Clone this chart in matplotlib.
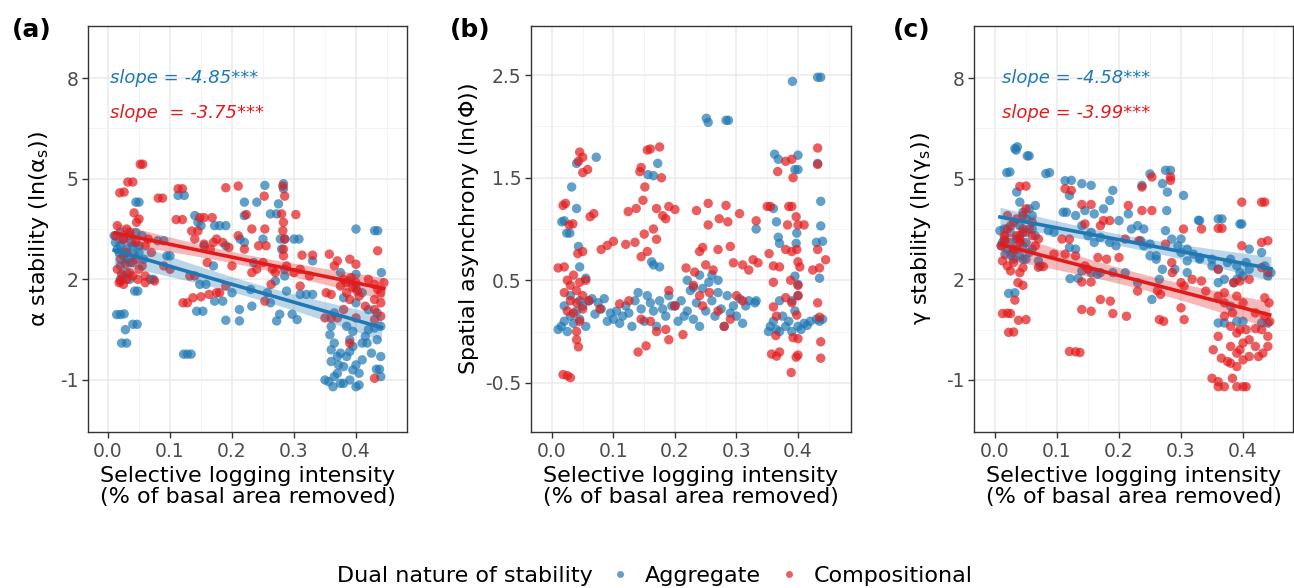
import numpy as np
import matplotlib
matplotlib.use('Agg')
import matplotlib.pyplot as plt
from matplotlib.lines import Line2D
from matplotlib.ticker import FixedLocator

plt.rcParams['font.family'] = ['DejaVu Sans']
plt.rcParams['mathtext.fontset'] = 'dejavusans'
plt.rcParams['axes.unicode_minus'] = False

BLUE = '#1F78B4'
RED = '#E31A1C'

groups = ['Aggregate', 'Compositional']
x_ticks = [0.0, 0.1, 0.2, 0.3, 0.4]

# ---------------- panel (a): alpha stability ----------------
a_agg = np.array([
    (0.014,0.95),(0.02,0.95),(0.026,0.97),(0.028,0.5),(0.022,0.1),(0.03,0.1),(0.04,0.66),(0.047,0.66),
    (0.043,1.65),(0.048,1.65),(0.045,4.3),(0.05,4.3),(0.02,2.4),(0.025,2.1),(0.03,2.2),(0.035,2.0),
    (0.02,2.0),(0.03,2.6),(0.015,2.9),(0.02,3.0),(0.025,2.7),(0.035,2.5),(0.045,3.4),(0.055,3.3),
    (0.04,3.0),(0.05,2.8),(0.068,2.0),(0.073,2.0),(0.08,3.15),(0.09,3.15),(0.095,2.7),(0.1,2.7),
    (0.113,4.5),(0.123,4.5),(0.122,-0.23),(0.128,-0.23),(0.134,-0.23),(0.14,3.9),(0.15,3.6),(0.145,3.7),
    (0.143,1.05),(0.153,1.05),(0.148,1.85),(0.158,1.85),(0.155,3.0),(0.172,3.6),(0.18,3.6),(0.19,3.6),
    (0.172,1.35),(0.185,1.35),(0.19,0.78),(0.19,3.0),(0.212,0.76),(0.212,1.1),(0.213,3.2),(0.22,3.1),
    (0.22,4.3),(0.22,3.9),(0.23,1.7),(0.232,1.2),(0.24,4.3),(0.253,4.8),(0.25,3.2),(0.257,1.6),
    (0.262,1.3),(0.262,3.95),(0.272,3.95),(0.275,4.25),(0.272,0.76),(0.278,3.2),(0.285,3.2),(0.283,4.85),
    (0.283,4.7),(0.28,2.9),(0.285,2.3),(0.277,0.96),(0.285,2.1),(0.288,1.65),(0.3,3.2),(0.308,3.2),
    (0.297,0.96),(0.305,0.8),(0.32,1.55),(0.33,1.55),(0.33,2.55),(0.358,0.35),(0.365,0.1),(0.37,-0.3),
    (0.36,-0.45),(0.372,-0.55),(0.36,-0.1),(0.35,-1.0),(0.356,-1.05),(0.363,-1.2),(0.375,2.2),(0.39,1.95),
    (0.4,1.75),(0.41,1.6),(0.385,0.6),(0.395,0.45),(0.39,-0.15),(0.4,-0.55),(0.38,-1.1),(0.39,-1.0),
    (0.4,-1.2),(0.405,-1.15),(0.4,3.5),(0.4,2.15),(0.41,0.1),(0.418,0.1),(0.42,0.5),(0.43,0.55),
    (0.43,3.45),(0.435,3.45),(0.434,0.2),(0.433,-0.68),(0.438,-0.68),(0.441,2.2),(0.44,0.6),(0.434,1.0),
    (0.17,2.4),(0.2,1.6),(0.235,2.5),(0.27,1.95),(0.31,1.55),(0.365,1.0),(0.38,1.45),(0.4,1.3),(0.42,1.1),
    (0.012,3.1),(0.018,2.8),(0.025,3.2),(0.03,2.9),(0.038,3.1),(0.042,2.75),(0.05,3.0),(0.058,2.6),
    (0.37,-0.8),(0.38,-0.6),(0.39,0.2),(0.375,-0.2),(0.41,-0.4),(0.44,-0.3),(0.36,0.6),(0.395,-0.7),
    (0.365,-0.9),(0.375,-1.1),(0.385,-0.3),(0.395,0.0),(0.405,-0.8),(0.415,0.3),(0.425,-0.2),(0.44,-0.9),
    (0.01,3.3),(0.02,3.4),(0.035,3.3),
])
a_comp = np.array([
    (0.052,5.43),(0.056,5.43),(0.032,4.9),(0.04,4.9),(0.019,4.58),(0.026,4.6),(0.081,4.42),(0.088,4.42),
    (0.113,4.7),(0.12,4.7),(0.19,4.73),(0.21,4.78),(0.252,4.48),(0.282,4.78),(0.285,4.48),(0.042,3.98),
    (0.046,3.7),(0.05,3.8),(0.11,3.78),(0.12,3.78),(0.148,3.84),(0.155,3.84),(0.168,3.84),(0.135,3.44),
    (0.145,3.44),(0.14,3.2),(0.155,3.05),(0.165,2.9),(0.17,3.1),(0.175,3.2),(0.185,3.1),(0.195,2.95),
    (0.132,2.1),(0.14,2.1),(0.121,1.3),(0.128,1.3),(0.137,1.45),(0.15,1.48),(0.163,1.55),(0.175,1.6),
    (0.18,1.6),(0.19,1.8),(0.21,3.3),(0.223,3.93),(0.232,3.5),(0.22,2.9),(0.232,2.2),(0.243,3.0),
    (0.255,3.0),(0.253,3.5),(0.25,2.5),(0.265,2.3),(0.253,1.35),(0.263,1.85),(0.28,3.95),(0.283,3.7),
    (0.282,3.45),(0.285,3.2),(0.283,2.9),(0.283,2.7),(0.303,3.93),(0.31,1.8),(0.288,2.4),(0.3,2.2),
    (0.31,2.3),(0.313,2.72),(0.33,2.72),(0.325,2.1),(0.357,2.75),(0.37,2.55),(0.365,2.4),(0.352,1.6),
    (0.36,1.55),(0.35,0.85),(0.36,0.85),(0.37,0.85),(0.375,1.8),(0.38,2.0),(0.385,1.6),(0.39,1.4),
    (0.395,1.75),(0.4,1.9),(0.405,1.5),(0.385,1.9),(0.392,2.05),(0.402,1.65),(0.39,2.6),(0.4,2.45),
    (0.39,0.1),(0.4,0.85),(0.42,2.0),(0.43,1.85),(0.435,1.7),(0.44,1.6),(0.445,1.9),(0.43,1.4),
    (0.44,1.3),(0.435,2.85),(0.43,-0.95),(0.43,0.8),(0.02,1.95),(0.03,2.0),(0.04,2.1),(0.02,2.6),
    (0.03,2.8),(0.045,2.6),(0.05,2.3),(0.012,3.3),(0.025,3.2),(0.035,3.4),(0.045,3.1),(0.06,3.0),
    (0.065,3.2),(0.07,2.8),(0.075,1.95),(0.09,2.4),(0.1,2.3),(0.06,2.1),
    (0.015,2.3),(0.022,2.15),(0.028,2.45),(0.035,2.2),(0.04,2.5),(0.048,2.0),(0.055,2.4),(0.06,1.9),
    (0.018,1.9),(0.025,1.85),(0.16,2.5),(0.2,2.4),(0.24,2.3),(0.27,2.2),
    (0.43,1.1),(0.415,1.2),(0.44,0.9),(0.38,1.1),(0.015,3.6),(0.03,3.5),
])

# ---------------- panel (b): spatial asynchrony ----------------
b_agg = np.array([
    (0.391,2.44),(0.432,2.48),(0.437,2.48),(0.251,2.08),(0.254,2.04),(0.283,2.06),(0.287,2.06),
    (0.362,1.73),(0.368,1.68),(0.4,1.72),(0.395,1.58),(0.4,1.58),(0.432,1.64),(0.437,1.27),(0.437,1.03),
    (0.43,0.87),(0.44,0.88),(0.435,0.52),(0.072,1.7),(0.04,1.64),(0.032,1.41),(0.016,1.07),(0.02,1.08),
    (0.024,0.96),(0.029,0.96),(0.04,1.2),(0.043,0.83),(0.045,0.63),(0.055,0.52),(0.156,1.53),(0.165,1.52),
    (0.172,1.64),(0.165,0.65),(0.175,0.63),(0.36,1.2),(0.332,1.0),(0.365,1.07),(0.368,0.92),(0.398,0.96),
    (0.397,0.86),(0.395,0.54),(0.4,0.46),(0.37,0.86),
    (0.01,0.02),(0.015,0.05),(0.02,0.1),(0.025,0.0),(0.03,0.15),(0.035,0.08),(0.04,0.2),(0.045,0.12),
    (0.05,0.25),(0.055,0.05),(0.06,0.3),(0.02,0.25),(0.03,0.35),(0.045,0.3),(0.065,0.32),(0.07,0.17),
    (0.075,0.28),(0.08,0.22),(0.085,0.32),(0.09,0.1),(0.1,0.12),(0.095,0.18),(0.105,0.2),(0.11,0.08),
    (0.115,0.15),(0.12,0.25),(0.125,0.18),(0.13,0.05),(0.135,0.3),(0.14,0.38),(0.145,0.22),(0.15,0.1),
    (0.155,0.35),(0.16,0.28),(0.165,0.2),(0.17,0.05),(0.175,0.3),(0.18,0.22),(0.185,0.15),(0.19,0.35),
    (0.195,0.25),(0.2,0.25),(0.205,0.1),(0.21,0.3),(0.215,0.15),(0.22,0.2),(0.225,0.4),(0.23,0.12),
    (0.235,0.28),(0.24,0.05),(0.245,0.42),(0.25,0.2),(0.255,0.48),(0.26,0.3),(0.265,0.15),(0.27,0.38),
    (0.275,0.22),(0.28,0.05),(0.285,0.35),(0.29,0.18),(0.295,0.25),(0.3,0.15),(0.305,0.32),(0.31,0.08),
    (0.315,0.25),(0.32,0.3),(0.33,0.28),(0.26,0.55),(0.27,0.5),(0.24,0.55),(0.22,0.5),(0.352,0.0),
    (0.355,0.05),(0.36,0.1),(0.365,0.02),(0.37,0.0),(0.375,0.15),(0.38,0.05),(0.385,0.1),(0.39,0.0),
    (0.395,0.2),(0.4,0.05),(0.405,0.02),(0.41,0.08),(0.415,0.06),(0.42,0.1),(0.43,0.12),(0.435,0.1),
    (0.44,0.12),(0.37,0.3),(0.39,0.3),(0.4,0.35),(0.162,0.68),(0.332,0.3),(0.23,0.43),
])
b_comp = np.array([
    (0.018,-0.42),(0.025,-0.43),(0.03,-0.45),(0.14,-0.2),(0.153,-0.14),(0.19,-0.08),(0.213,-0.03),
    (0.17,0.0),(0.185,0.02),(0.389,-0.4),(0.357,-0.22),(0.365,-0.24),(0.37,-0.2),(0.397,-0.25),
    (0.4,-0.23),(0.437,-0.26),(0.437,-0.1),(0.392,-0.06),(0.4,-0.07),(0.364,-0.04),(0.04,-0.08),
    (0.043,-0.15),(0.04,0.0),(0.045,1.75),(0.05,1.7),(0.043,1.66),(0.05,1.55),(0.058,1.58),(0.018,1.23),
    (0.022,1.25),(0.034,1.05),(0.028,1.04),(0.062,1.12),(0.068,1.15),(0.08,0.8),(0.09,0.84),(0.1,0.88),
    (0.01,0.62),(0.02,0.63),(0.025,0.5),(0.03,0.45),(0.035,0.55),(0.04,0.4),(0.045,0.48),(0.05,0.35),
    (0.055,0.5),(0.03,0.3),(0.02,0.38),(0.04,0.28),(0.05,0.22),(0.035,0.18),(0.045,0.1),(0.06,0.3),
    (0.025,0.2),(0.042,0.76),(0.05,0.78),(0.078,0.22),(0.11,0.27),(0.125,0.3),(0.143,1.56),(0.155,1.77),
    (0.16,1.78),(0.175,1.8),(0.145,1.6),(0.178,1.5),(0.151,1.41),(0.124,1.17),(0.137,1.2),(0.148,1.28),
    (0.17,1.2),(0.18,1.13),(0.19,1.22),(0.2,1.19),(0.185,1.1),(0.12,0.85),(0.135,0.87),(0.145,0.73),
    (0.155,0.78),(0.15,0.95),(0.165,1.0),(0.17,0.9),(0.235,1.18),(0.254,1.25),(0.283,1.23),(0.305,1.15),
    (0.254,1.04),(0.272,1.1),(0.286,1.07),(0.245,0.82),(0.27,0.8),(0.29,0.83),(0.24,0.78),(0.218,0.62),
    (0.232,0.58),(0.25,0.65),(0.262,0.6),(0.295,0.67),(0.31,0.65),(0.32,0.6),(0.335,0.67),(0.327,0.7),
    (0.332,1.08),(0.35,1.22),(0.355,1.22),(0.353,0.76),(0.36,0.64),(0.37,0.63),(0.36,0.48),(0.36,0.24),
    (0.365,0.15),(0.38,1.66),(0.39,1.68),(0.392,1.5),(0.367,1.56),(0.385,1.22),(0.39,1.22),(0.397,1.12),
    (0.383,1.04),(0.4,1.04),(0.41,1.04),(0.38,0.8),(0.39,0.78),(0.398,0.8),(0.4,0.68),(0.403,0.63),
    (0.388,0.5),(0.4,0.45),(0.38,0.33),(0.39,0.28),(0.4,0.35),(0.398,0.16),(0.432,1.79),(0.432,1.63),
    (0.424,0.6),(0.435,0.62),(0.445,0.7),(0.432,0.28),(0.435,0.14),(0.432,0.8),(0.23,0.45),(0.24,0.35),
    (0.245,0.25),(0.256,0.38),(0.27,0.2),(0.28,0.05),(0.29,0.12),(0.145,0.12),(0.16,0.1),(0.19,0.4),
    (0.2,0.25),(0.3,0.35),(0.31,0.3),
])

# ---------------- panel (c): gamma stability ----------------
c_agg = np.array([
    (0.032,5.9),(0.036,5.95),(0.034,5.85),(0.052,5.68),(0.055,5.68),(0.019,5.18),(0.024,5.2),(0.082,5.15),
    (0.088,5.18),(0.113,4.94),(0.123,4.95),(0.14,4.85),(0.155,4.8),(0.12,4.5),(0.19,4.65),(0.185,4.35),
    (0.237,4.8),(0.25,5.14),(0.275,5.25),(0.283,5.25),(0.27,4.85),(0.278,4.6),(0.304,4.5),(0.277,4.05),
    (0.33,3.75),(0.36,3.8),(0.366,3.8),(0.395,3.65),(0.035,4.6),(0.04,4.3),(0.045,4.0),(0.05,3.8),
    (0.055,4.1),(0.06,3.9),(0.065,4.2),(0.04,3.6),(0.05,3.4),(0.035,3.2),(0.045,3.0),(0.055,2.8),
    (0.04,2.7),(0.06,3.5),(0.008,3.45),(0.015,3.5),(0.025,3.4),(0.016,2.75),(0.026,2.72),(0.022,1.58),
    (0.032,1.6),(0.07,2.55),(0.073,2.4),(0.086,3.45),(0.095,3.4),(0.11,4.0),(0.115,4.0),(0.12,2.95),
    (0.13,2.9),(0.121,2.02),(0.134,2.03),(0.13,3.9),(0.14,3.6),(0.15,3.3),(0.16,3.1),(0.14,2.25),
    (0.155,2.2),(0.165,2.15),(0.145,4.05),(0.16,3.95),(0.175,4.1),(0.155,3.4),(0.17,3.25),(0.185,3.1),
    (0.195,3.0),(0.17,2.2),(0.19,2.2),(0.2,3.75),(0.215,3.95),(0.23,3.6),(0.24,3.5),(0.21,2.2),
    (0.23,1.9),(0.22,3.5),(0.235,3.15),(0.25,3.05),(0.24,3.0),(0.25,2.7),(0.26,2.6),(0.253,1.4),
    (0.26,2.7),(0.27,2.3),(0.265,2.0),(0.275,3.45),(0.285,3.2),(0.295,3.0),(0.3,2.8),(0.3,3.2),
    (0.31,2.9),(0.32,2.75),(0.33,2.65),(0.29,2.3),(0.31,2.2),(0.31,2.55),(0.33,2.6),(0.35,2.4),
    (0.35,2.6),(0.36,2.3),(0.37,2.0),(0.375,2.5),(0.36,1.9),(0.36,0.7),(0.37,0.7),(0.38,2.6),
    (0.39,2.4),(0.4,2.1),(0.41,2.3),(0.385,1.9),(0.395,2.2),(0.405,2.5),(0.39,2.0),(0.38,1.2),
    (0.39,0.75),(0.4,0.75),(0.398,3.65),(0.41,2.9),(0.43,2.8),(0.435,2.4),(0.44,2.1),(0.445,2.2),
    (0.43,0.7),(0.44,0.7),(0.328,3.76),
    (0.01,3.0),(0.015,3.2),(0.02,2.9),(0.025,3.1),(0.03,2.6),(0.035,2.9),(0.04,3.3),(0.045,2.6),
    (0.05,3.1),(0.06,2.9),(0.065,3.3),(0.012,3.1),(0.028,2.8),(0.05,2.6),
])
c_comp = np.array([
    (0.04,4.77),(0.05,4.78),(0.113,4.7),(0.123,4.65),(0.14,4.23),(0.155,4.23),(0.175,3.75),(0.185,3.75),
    (0.237,4.75),(0.253,5.05),(0.283,5.05),(0.283,4.95),(0.398,4.3),(0.43,4.3),(0.435,4.3),(0.333,3.5),
    (0.36,3.52),(0.366,3.52),(0.304,3.5),(0.237,4.05),(0.253,4.05),(0.215,4.2),(0.012,2.55),(0.02,2.4),
    (0.025,2.25),(0.03,2.5),(0.04,2.2),(0.045,2.35),(0.012,0.98),(0.02,0.99),(0.025,0.98),(0.022,0.42),
    (0.03,0.43),(0.038,0.78),(0.05,0.8),(0.037,1.9),(0.045,1.82),(0.016,3.15),(0.04,3.1),(0.03,3.7),
    (0.045,3.5),(0.06,3.3),(0.07,3.2),(0.032,1.38),(0.07,2.36),(0.078,2.38),(0.095,2.75),(0.113,2.75),
    (0.108,3.2),(0.12,3.2),(0.12,-0.15),(0.13,-0.16),(0.137,-0.18),(0.14,1.1),(0.155,1.05),(0.14,1.92),
    (0.155,1.92),(0.13,2.7),(0.145,2.4),(0.15,2.3),(0.145,3.65),(0.17,3.6),(0.166,2.65),(0.18,2.6),
    (0.17,1.4),(0.186,1.35),(0.19,0.98),(0.212,0.9),(0.2,2.65),(0.21,3.2),(0.232,3.15),(0.23,1.65),
    (0.265,0.8),(0.272,0.75),(0.262,1.66),(0.267,1.55),(0.275,3.05),(0.285,2.5),(0.286,2.2),(0.3,1.9),
    (0.305,1.8),(0.3,1.15),(0.305,0.8),(0.318,2.0),(0.333,1.95),(0.34,1.65),(0.36,1.5),(0.37,1.3),
    (0.352,-0.1),(0.365,-0.35),(0.375,-0.45),(0.35,-0.95),(0.36,-1.05),(0.36,-1.2),(0.37,-1.2),
    (0.38,0.0),(0.39,-0.2),(0.4,-0.4),(0.395,-0.1),(0.383,-0.95),(0.39,-1.2),(0.4,-1.2),(0.405,-1.2),
    (0.383,1.0),(0.39,0.4),(0.405,0.5),(0.36,2.3),(0.37,1.6),(0.385,1.9),(0.39,1.5),(0.4,1.3),
    (0.41,2.0),(0.41,0.2),(0.42,0.53),(0.398,3.0),(0.395,1.95),(0.43,3.1),(0.44,3.15),(0.432,-0.2),
    (0.435,1.45),(0.442,1.3),(0.43,2.35),(0.44,2.2),(0.443,0.74),
    (0.015,3.3),(0.025,3.6),(0.035,3.3),(0.045,3.9),(0.05,4.1),(0.055,3.5),(0.065,3.0),(0.03,2.9),
    (0.04,3.2),(0.01,3.0),(0.06,3.7),(0.36,0.3),(0.37,0.9),(0.38,0.6),(0.39,-0.6),(0.4,0.1),
    (0.41,-0.3),(0.38,-0.5),(0.435,0.9),(0.42,1.0),(0.44,0.3),
    (0.02,3.5),(0.035,3.8),(0.045,3.4),(0.43,0.5),(0.42,0.0),(0.395,0.5),
    (0.02,3.9),(0.44,0.0),(0.425,-0.3),
])

slope_labels = {
    'a': ['slope = -4.85***', 'slope  = -3.75***'],
    'c': ['slope = -4.58***', 'slope = -3.99***'],
}

W, H = 1294, 588
fig = plt.figure(figsize=(W / 100, H / 100), dpi=100)


def px_axes(l, t, r, b):
    return fig.add_axes([l / W, 1 - b / H, (r - l) / W, (b - t) / H])


def fit_ci(d):
    x, y = d[:, 0], d[:, 1]
    n = len(x)
    b1, b0 = np.polyfit(x, y, 1)
    xs = np.linspace(x.min(), x.max(), 100)
    yh = b0 + b1 * xs
    res = y - (b0 + b1 * x)
    s = np.sqrt(res @ res / (n - 2))
    se = s * np.sqrt(1 / n + (xs - x.mean()) ** 2 / ((x - x.mean()) ** 2).sum())
    return xs, yh, yh - 1.97 * se, yh + 1.97 * se


def style(ax, xlim, ylim, yticks, yminor):
    ax.set_xlim(*xlim)
    ax.set_ylim(*ylim)
    ax.xaxis.set_major_locator(FixedLocator(x_ticks))
    ax.xaxis.set_minor_locator(FixedLocator([-0.05, 0.05, 0.15, 0.25, 0.35, 0.45]))
    ax.yaxis.set_major_locator(FixedLocator(yticks))
    ax.yaxis.set_minor_locator(FixedLocator(yminor))
    ax.set_xticklabels(['0.0', '0.1', '0.2', '0.3', '0.4'])
    ax.grid(which='major', color='#EBEBEB', lw=1.1)
    ax.grid(which='minor', color='#F2F2F2', lw=0.6)
    ax.set_axisbelow(True)
    for sp in ax.spines.values():
        sp.set_color('#333333')
        sp.set_linewidth(1.0)
    ax.tick_params(which='major', length=4, width=1, color='#333333',
                   labelsize=13.5, labelcolor='#4D4D4D', pad=3)
    ax.tick_params(which='minor', length=0)
    ax.set_xlabel('Selective logging intensity\n(% of basal area removed)',
                  fontsize=16, labelpad=4, linespacing=1.05)


def draw(ax, agg, comp, smooth):
    ax.scatter(agg[:, 0], agg[:, 1], s=46, color=BLUE, alpha=0.7, edgecolors='none', zorder=2)
    ax.scatter(comp[:, 0], comp[:, 1], s=46, color=RED, alpha=0.7, edgecolors='none', zorder=2)
    if smooth:
        for d, c in ((agg, BLUE), (comp, RED)):
            xs, yh, lo, hi = fit_ci(d)
            ax.fill_between(xs, lo, hi, color=c, alpha=0.3, lw=0, zorder=3)
            ax.plot(xs, yh, color=c, lw=2.6, zorder=4)


# panel a
ax1 = px_axes(88, 26, 407, 432)
draw(ax1, a_agg, a_comp, True)
style(ax1, (-0.0323, 0.4823), (-2.55, 9.55), [-1, 2, 5, 8], [0.5, 3.5, 6.5])
ax1.set_ylabel(r'α stability $\left(\mathrm{ln}\left(\mathrm{α_{s}}\right)\right)$', fontsize=16)
ax1.yaxis.set_label_coords(-0.116, 0.5)
ax1.text(0.003, 8, slope_labels['a'][0], color=BLUE, style='italic', fontsize=13, va='center')
ax1.text(0.003, 6.95, slope_labels['a'][1], color=RED, style='italic', fontsize=13, va='center')

# panel b
ax2 = px_axes(531, 26, 851, 432)
draw(ax2, b_agg, b_comp, False)
style(ax2, (-0.0341, 0.4862), (-0.98, 2.98), [-0.5, 0.5, 1.5, 2.5], [0.0, 1.0, 2.0])
ax2.set_ylabel(r'Spatial asynchrony $\left(\mathrm{ln}\left(\mathrm{Φ}\right)\right)$', fontsize=16)
ax2.yaxis.set_label_coords(-0.156, 0.5)

# panel c
ax3 = px_axes(974, 26, 1293, 432)
draw(ax3, c_agg, c_comp, True)
style(ax3, (-0.0339, 0.4806), (-2.55, 9.55), [-1, 2, 5, 8], [0.5, 3.5, 6.5])
ax3.set_ylabel(r'γ stability $\left(\mathrm{ln}\left(\mathrm{γ_{s}}\right)\right)$', fontsize=16)
ax3.yaxis.set_label_coords(-0.129, 0.5)
ax3.text(0.011, 8, slope_labels['c'][0], color=BLUE, style='italic', fontsize=13, va='center')
ax3.text(0.011, 6.95, slope_labels['c'][1], color=RED, style='italic', fontsize=13, va='center')

# panel tags
for xp, tag in ((32, '(a)'), (470, '(b)'), (912, '(c)')):
    fig.text(xp / W, 1 - 30 / H, tag, fontsize=18, fontweight='bold', ha='center', va='center')

# legend
ly = 1 - 576 / H
fig.text(337 / W, ly, 'Dual nature of stability', fontsize=16, ha='left', va='center')
handles = [Line2D([], [], marker='o', ls='', color=BLUE, alpha=0.7, markersize=5, markeredgewidth=0),
           Line2D([], [], marker='o', ls='', color=RED, alpha=0.7, markersize=5, markeredgewidth=0)]
fig.legend(handles, groups, ncol=2, frameon=False, loc='center left',
           bbox_to_anchor=(611 / W, ly), fontsize=16, handletextpad=0.7,
           columnspacing=0.9, handlelength=0.8, borderpad=0, borderaxespad=0)

fig.savefig('out.png', dpi=100)
